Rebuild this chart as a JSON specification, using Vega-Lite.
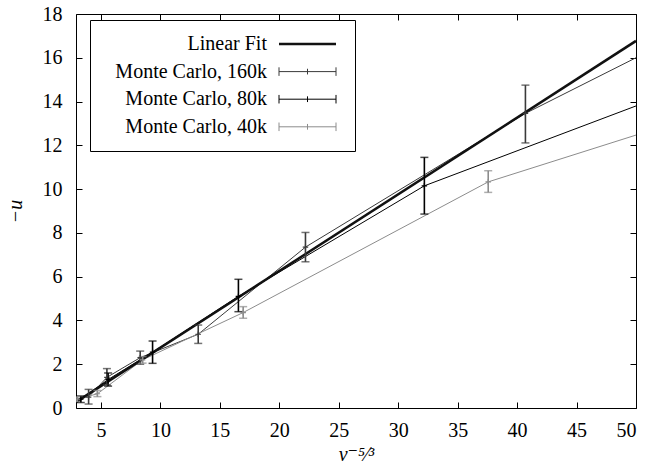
{
  "$schema": "https://vega.github.io/schema/vega-lite/v6.json",
  "width": 560,
  "height": 394,
  "padding": {"left": 5, "top": 4, "right": 14, "bottom": 5},
  "background": "white",
  "config": {
    "view": {"stroke": "black", "strokeWidth": 1},
    "font": "Liberation Serif, Times New Roman, DejaVu Serif, serif",
    "axis": {
      "labelFont": "Liberation Serif, Times New Roman, DejaVu Serif, serif",
      "labelFontSize": 20,
      "labelColor": "black",
      "titleFont": "Liberation Serif, Times New Roman, DejaVu Serif, serif",
      "titleFontSize": 20,
      "titleColor": "black",
      "titleFontWeight": "normal",
      "tickColor": "black",
      "tickSize": -6,
      "domain": false,
      "grid": false
    }
  },
  "data": {
    "values": [
      {"series": "Linear Fit", "x": 2.9, "y": 0.27},
      {"series": "Linear Fit", "x": 50, "y": 16.77},
      {"series": "Monte Carlo, 160k", "x": 3.96, "y": 0.5, "lo": 0.18, "hi": 0.85},
      {"series": "Monte Carlo, 160k", "x": 5.5, "y": 1.4, "lo": 1.05, "hi": 1.8},
      {"series": "Monte Carlo, 160k", "x": 8.3, "y": 2.3, "lo": 2.0, "hi": 2.6},
      {"series": "Monte Carlo, 160k", "x": 13.18, "y": 3.37, "lo": 2.95, "hi": 3.79},
      {"series": "Monte Carlo, 160k", "x": 22.2, "y": 7.35, "lo": 6.68, "hi": 8.02},
      {"series": "Monte Carlo, 160k", "x": 40.7, "y": 13.46, "lo": 12.11, "hi": 14.75},
      {"series": "Monte Carlo, 160k", "x": 80, "y": 24.2, "lo": 22, "hi": 26.4},
      {"series": "Monte Carlo, 80k", "x": 3.3, "y": 0.4, "lo": 0.25, "hi": 0.55},
      {"series": "Monte Carlo, 80k", "x": 5.6, "y": 1.3, "lo": 1.0, "hi": 1.6},
      {"series": "Monte Carlo, 80k", "x": 9.34, "y": 2.55, "lo": 2.04, "hi": 3.06},
      {"series": "Monte Carlo, 80k", "x": 16.56, "y": 5.1, "lo": 4.4, "hi": 5.88},
      {"series": "Monte Carlo, 80k", "x": 32.2, "y": 10.15, "lo": 8.86, "hi": 11.45},
      {"series": "Monte Carlo, 80k", "x": 62, "y": 16.26, "lo": 14, "hi": 18.5},
      {"series": "Monte Carlo, 40k", "x": 3.0, "y": 0.4, "lo": 0.3, "hi": 0.5},
      {"series": "Monte Carlo, 40k", "x": 4.7, "y": 0.65, "lo": 0.52, "hi": 0.8},
      {"series": "Monte Carlo, 40k", "x": 8.5, "y": 2.2, "lo": 2.05, "hi": 2.35},
      {"series": "Monte Carlo, 40k", "x": 16.96, "y": 4.36, "lo": 4.1, "hi": 4.63},
      {"series": "Monte Carlo, 40k", "x": 37.57, "y": 10.33, "lo": 9.85, "hi": 10.84},
      {"series": "Monte Carlo, 40k", "x": 90, "y": 19.35, "lo": 18.5, "hi": 20.2}
    ]
  },
  "resolve": {"axis": {"x": "independent", "y": "independent"}},
  "layer": [
    {
      "transform": [{"filter": "datum.series !== 'Linear Fit'"}],
      "mark": {"type": "line", "clip": true, "strokeWidth": 1},
      "encoding": {
        "x": {"field": "x", "type": "quantitative", "scale": {"domain": [2.9, 50], "nice": false, "zero": false},
              "axis": {"orient": "bottom", "values": [5, 10, 15, 20, 25, 30, 35, 40, 45, 50], "title": "v⁻⁵⁄³", "titleFontStyle": "italic", "labelPadding": 18, "titlePadding": 4}},
        "y": {"field": "y", "type": "quantitative", "scale": {"domain": [0, 18], "nice": false, "zero": false},
              "axis": {"orient": "left", "values": [0, 2, 4, 6, 8, 10, 12, 14, 16, 18], "title": "−u", "titleFontStyle": "italic", "labelPadding": 20, "titlePadding": 17}},
        "color": {
          "field": "series", "type": "nominal",
          "scale": {"domain": ["Linear Fit", "Monte Carlo, 160k", "Monte Carlo, 80k", "Monte Carlo, 40k"], "range": ["#111111", "#3a3a3a", "#000000", "#8c8c8c"]},
          "legend": {
            "orient": "none", "legendX": 14, "legendY": 6,
            "title": null,
            "strokeColor": "black", "fillColor": "white", "padding": 14,
            "labelFont": "Liberation Serif, Times New Roman, DejaVu Serif, serif", "labelFontSize": 20, "labelColor": "black",
            "labelAlign": "right", "labelBaseline": "middle", "labelOffset": -50.5, "labelLimit": 300,
            "symbolOffset": 193.5, "symbolSize": 3249, "rowPadding": 7.6,
            "symbolType": "M-1,0L1,0M-1,-0.15L-1,0.15M1,-0.15L1,0.15M0,-0.1L0,0.1",
            "encode": {
              "symbols": {"update": {
                "fill": {"value": "transparent"},
                "strokeWidth": {"signal": "datum.value === 'Linear Fit' ? 2.5 : 1"},
                "shape": {"signal": "datum.value === 'Linear Fit' ? 'M-1,0L1,0' : 'M-1,0L1,0M-1,-0.15L-1,0.15M1,-0.15L1,0.15M0,-0.1L0,0.1'"}
              }}
            }
          }
        }
      }
    },
    {
      "transform": [{"filter": "datum.series === 'Linear Fit'"}],
      "mark": {"type": "line", "clip": true, "strokeWidth": 2.5},
      "encoding": {
        "x": {"field": "x", "type": "quantitative", "axis": {"orient": "top", "values": [5, 10, 15, 20, 25, 30, 35, 40, 45, 50], "labels": false, "title": null}},
        "y": {"field": "y", "type": "quantitative", "axis": {"orient": "right", "values": [0, 2, 4, 6, 8, 10, 12, 14, 16, 18], "labels": false, "title": null}},
        "color": {"field": "series", "type": "nominal"}
      }
    },
    {
      "transform": [{"filter": "datum.lo != null && datum.x <= 50"}],
      "mark": {"type": "rule", "clip": true, "strokeWidth": 1.6},
      "encoding": {
        "x": {"field": "x", "type": "quantitative", "axis": null},
        "y": {"field": "lo", "type": "quantitative", "axis": null},
        "y2": {"field": "hi"},
        "color": {"field": "series", "type": "nominal"}
      }
    },
    {
      "transform": [{"filter": "datum.lo != null && datum.x <= 50"}],
      "mark": {"type": "tick", "orient": "horizontal", "clip": true, "size": 8, "thickness": 1.5},
      "encoding": {
        "x": {"field": "x", "type": "quantitative", "axis": null},
        "y": {"field": "lo", "type": "quantitative", "axis": null},
        "color": {"field": "series", "type": "nominal"}
      }
    },
    {
      "transform": [{"filter": "datum.lo != null && datum.x <= 50"}],
      "mark": {"type": "tick", "orient": "horizontal", "clip": true, "size": 8, "thickness": 1.5},
      "encoding": {
        "x": {"field": "x", "type": "quantitative", "axis": null},
        "y": {"field": "hi", "type": "quantitative", "axis": null},
        "color": {"field": "series", "type": "nominal"}
      }
    },
    {
      "transform": [{"filter": "datum.lo != null && datum.x <= 50"}],
      "mark": {"type": "point", "clip": true, "filled": false, "size": 30, "strokeWidth": 1.2, "opacity": 1,
               "shape": "M-1,0L1,0M0,-1L0,1"},
      "encoding": {
        "x": {"field": "x", "type": "quantitative", "axis": null},
        "y": {"field": "y", "type": "quantitative", "axis": null},
        "color": {"field": "series", "type": "nominal"}
      }
    }
  ]
}
